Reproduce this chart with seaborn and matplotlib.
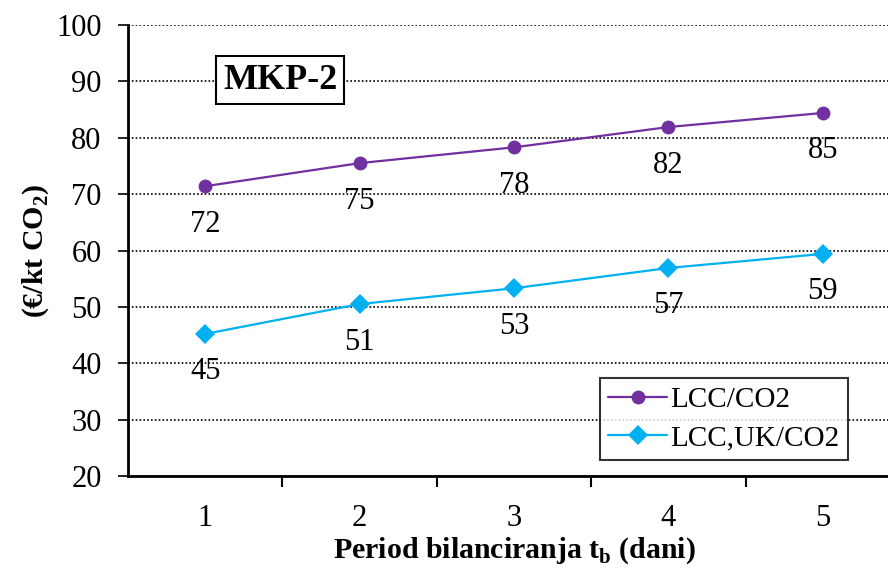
import matplotlib
matplotlib.use('Agg')
import matplotlib.pyplot as plt
import seaborn as sns
import pandas as pd

# podaci očitani sa slike
periods = [1, 2, 3, 4, 5]
lcc_co2 = [71.4, 75.5, 78.3, 81.9, 84.4]
lcc_uk_co2 = [45.2, 50.5, 53.3, 56.9, 59.4]
lcc_labels = ["72", "75", "78", "82", "85"]
lcc_uk_labels = ["45", "51", "53", "57", "59"]
series_names = ["LCC/CO2", "LCC,UK/CO2"]
colors = ["#7030A0", "#00B0F0"]

df = pd.DataFrame({
    "t": periods * 2,
    "val": lcc_co2 + lcc_uk_co2,
    "serija": [series_names[0]] * 5 + [series_names[1]] * 5,
})

sns.set_theme(style="white")
plt.rcParams['font.family'] = ['Liberation Serif', 'DejaVu Serif']
plt.rcParams['mathtext.fontset'] = 'custom'
plt.rcParams['mathtext.rm'] = 'Liberation Serif'
plt.rcParams['mathtext.bf'] = 'Liberation Serif:bold'
plt.rcParams['text.color'] = 'black'
plt.rcParams['axes.labelcolor'] = 'black'
plt.rcParams['xtick.color'] = 'black'
plt.rcParams['ytick.color'] = 'black'

fs = 22

fig = plt.figure(figsize=(8.88, 5.68), dpi=100)
ax = fig.add_axes([128 / 888, 1 - 476 / 568, 772 / 888, 451 / 568])

sns.lineplot(data=df, x="t", y="val", hue="serija", style="serija",
             markers={series_names[0]: "o", series_names[1]: "D"},
             dashes=False, palette=colors, linewidth=1.6,
             markersize=10, markeredgewidth=0, ax=ax)

# oznake vrijednosti ispod točaka
for xs, ys, labs in [(periods, lcc_co2, lcc_labels), (periods, lcc_uk_co2, lcc_uk_labels)]:
    for x, y, lab in zip(xs, ys, labs):
        ax.annotate(lab, (x, y), xytext=(0, -38), textcoords="offset pixels",
                    ha="center", va="center", fontsize=fs, color="black")

ax.set_xlim(0.5, 5.5)
ax.set_ylim(20, 100)
ax.set_yticks(range(20, 101, 10))
ax.set_xticks([1.5, 2.5, 3.5, 4.5], minor=False)
ax.set_xticks(periods, minor=True)
ax.set_xticklabels([])
ax.set_xticklabels([str(p) for p in periods], minor=True)
ax.tick_params(axis="x", which="major", direction="out", length=8, width=1.5, color="black", bottom=True)
ax.tick_params(axis="x", which="minor", length=0, pad=20, labelsize=fs, bottom=True)
ax.tick_params(axis="y", direction="out", length=7, width=1.2, color="black", left=True,
               labelsize=fs, pad=12)

ax.yaxis.grid(True, linestyle=(0, (1, 1.3)), color="black", linewidth=1.2)
ax.xaxis.grid(False)
for side in ["top", "right"]:
    ax.spines[side].set_visible(False)
for side in ["left", "bottom"]:
    ax.spines[side].set_color("black")
    ax.spines[side].set_linewidth(2)

ax.set_xlabel("Period bilanciranja t$_\\mathbf{b}$ (dani)", fontsize=21.5, fontweight="bold", labelpad=2)
ax.set_ylabel("(€/kt CO$_\\mathbf{2}$)", fontsize=21.5, fontweight="bold", labelpad=4)

ax.text(0.197, 0.878, "MKP-2", transform=ax.transAxes, ha="center", va="center",
        fontsize=26, fontweight="bold",
        bbox=dict(boxstyle="square,pad=0.2", facecolor="white", edgecolor="black", linewidth=1.5))

leg = ax.legend(loc="lower left", bbox_to_anchor=(0.611, 0.035), fontsize=21,
                frameon=True, fancybox=False, edgecolor="black", handlelength=2.0,
                borderpad=0.3, labelspacing=0.4, handletextpad=0.1, borderaxespad=0)
leg.get_frame().set_linewidth(1.5)

fig.savefig("out.png", dpi=100)
